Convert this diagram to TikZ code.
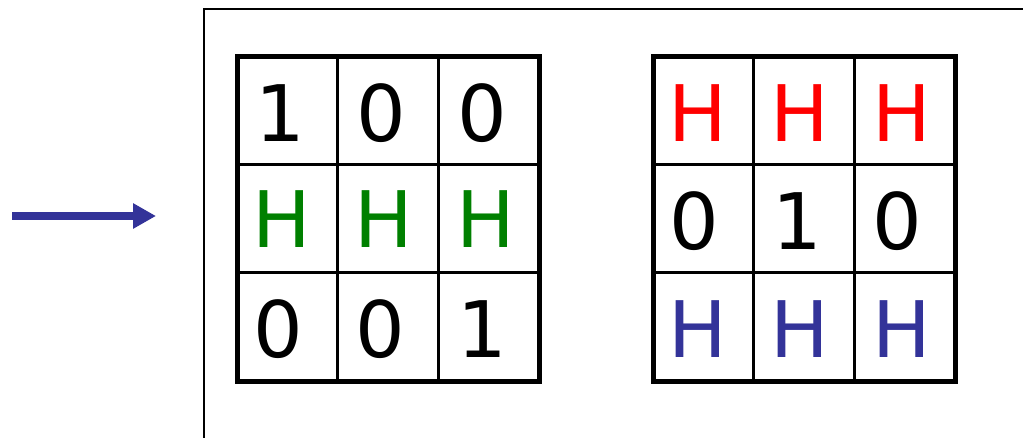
\documentclass[tikz,border=0pt]{standalone}
\usepackage{fontspec}
\setmainfont{DejaVu Sans}
\usetikzlibrary{arrows.meta}
\definecolor{myblue}{HTML}{333399}
\definecolor{mygreen}{HTML}{008000}
\definecolor{myred}{HTML}{FF0000}
\begin{document}
\begin{tikzpicture}[x=1pt,y=-1pt,
  cell/.style={inner sep=0pt,font=\fontsize{78}{80}\selectfont},
  outer/.style={line width=5pt,line join=miter},
  inner/.style={line width=3pt}]
\useasboundingbox (0,0) rectangle (1023,438);
\clip (0,0) rectangle (1023,438);
% frame
\draw[line width=2pt] (204,445) |- (1030,9);
% arrow
\coordinate (as) at (12,216);
\coordinate (ae) at (156,216);
\draw[myblue,line width=8pt,-{Triangle[length=23pt,width=24pt]}] (as) -- (ae);
% left grid
\draw[inner] (337,57) -- (337,381) (438,57) -- (438,381) (237,165) -- (539,165) (237,273) -- (539,273);
\draw[outer] (237,57) rectangle (539,381);
% right grid
\draw[inner] (753,57) -- (753,381) (854,57) -- (854,381) (653,165) -- (955,165) (653,273) -- (955,273);
\draw[outer] (653,57) rectangle (955,381);
% left texts
\node[cell] (l11) at (280,113) {1};
\node[cell] (l12) at (381,113) {0};
\node[cell] (l13) at (482,113) {0};
\node[cell,text=mygreen] (l21) at (282,219) {H};
\node[cell,text=mygreen] (l22) at (384,219) {H};
\node[cell,text=mygreen] (l23) at (486,219) {H};
\node[cell] (l31) at (278,329) {0};
\node[cell] (l32) at (380,329) {0};
\node[cell] (l33) at (482,329) {1};
% right texts
\node[cell,text=myred] (r11) at (698,113) {H};
\node[cell,text=myred] (r12) at (800,113) {H};
\node[cell,text=myred] (r13) at (902,113) {H};
\node[cell] (r21) at (694,221) {0};
\node[cell] (r22) at (797,221) {1};
\node[cell] (r23) at (897,221) {0};
\node[cell,text=myblue] (r31) at (698,329) {H};
\node[cell,text=myblue] (r32) at (800,329) {H};
\node[cell,text=myblue] (r33) at (902,329) {H};
\end{tikzpicture}
\end{document}
